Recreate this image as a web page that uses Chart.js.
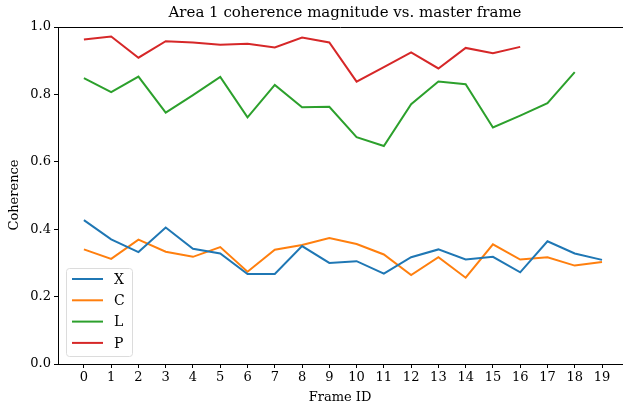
<!DOCTYPE html>
<html lang="en">
<head>
  <meta charset="UTF-8">
  <title>Area 1 coherence</title>
  <script src="https://cdn.jsdelivr.net/npm/chart.js@4.4.1/dist/chart.umd.min.js"></script>
  <style>
    html, body { margin: 0; padding: 0; background: #fff; }
    #wrap { width: 623px; height: 411px; }
  </style>
</head>
<body>
  <div id="wrap"><canvas id="coh-chart" width="623" height="411"></canvas></div>

  <script>
    // frame ids 0..19
    var frameIds = [0, 1, 2, 3, 4, 5, 6, 7, 8, 9, 10, 11, 12, 13, 14, 15, 16, 17, 18, 19];
    var yTicks = [0.0, 0.2, 0.4, 0.6, 0.8, 1.0];

    // coherence per band
    var cohX = [0.427, 0.370, 0.332, 0.405, 0.342, 0.328, 0.267, 0.267, 0.350, 0.300,
                0.305, 0.268, 0.317, 0.340, 0.310, 0.318, 0.272, 0.364, 0.328, 0.309];
    var cohC = [0.340, 0.312, 0.369, 0.333, 0.318, 0.347, 0.274, 0.339, 0.353, 0.374,
                0.356, 0.325, 0.264, 0.317, 0.256, 0.355, 0.310, 0.317, 0.292, 0.303];
    var cohL = [0.848, 0.807, 0.853, 0.746, 0.798, 0.852, 0.732, 0.828, 0.762, 0.763,
                0.673, 0.647, 0.771, 0.838, 0.830, 0.702, 0.737, 0.774, 0.866];
    var cohP = [0.963, 0.972, 0.909, 0.958, 0.954, 0.947, 0.950, 0.939, 0.969, 0.954,
                0.838, 0.881, 0.925, 0.877, 0.938, 0.922, 0.941];

    var bandNames = ["X", "C", "L", "P"];
    var bandColors = ["#1f77b4", "#ff7f0e", "#2ca02c", "#d62728"];
    var bandValues = [cohX, cohC, cohL, cohP];

    var serif = "'DejaVu Serif', 'Liberation Serif', serif";

    function toPoints(vals) {
      return vals.map((v, i) => ({ x: frameIds[i], y: v }));
    }

    var datasets = bandNames.map((name, i) => ({
      label: name,
      data: toPoints(bandValues[i]),
      borderColor: bandColors[i],
      backgroundColor: bandColors[i],
      borderWidth: 2,
      pointRadius: 0,
      tension: 0,
      fill: false
    }));

    // top spine, title, axis titles and the boxed legend in the lower left
    var decor = {
      id: "decor",
      afterDraw(chart) {
        const ctx = chart.ctx;
        const a = chart.chartArea;
        ctx.save();
        ctx.strokeStyle = "#000";
        ctx.lineWidth = 1;
        ctx.beginPath();
        ctx.moveTo(a.left, a.top + 0.5);
        ctx.lineTo(a.right, a.top + 0.5);
        ctx.stroke();

        ctx.fillStyle = "#000";
        ctx.textAlign = "center";
        ctx.textBaseline = "middle";
        ctx.font = "15px " + serif;
        ctx.fillText("Area 1 coherence magnitude vs. master frame", 345, 13);

        ctx.font = "13px " + serif;
        ctx.fillText("Frame ID", 340, 398);

        ctx.translate(15, 195);
        ctx.rotate(-Math.PI / 2);
        ctx.fillText("Coherence", 0, 0);
        ctx.restore();

        // legend
        ctx.save();
        const bx = 66, by = 268, bw = 66, bh = 88;
        ctx.fillStyle = "rgba(255,255,255,0.8)";
        ctx.strokeStyle = "#dcdcdc";
        ctx.lineWidth = 1;
        ctx.beginPath();
        ctx.roundRect(bx + 0.5, by + 0.5, bw, bh, 3);
        ctx.fill();
        ctx.stroke();
        ctx.font = "14px " + serif;
        ctx.textAlign = "left";
        ctx.textBaseline = "middle";
        chart.data.datasets.forEach((ds, i) => {
          const yy = 279 + i * 21.3;
          ctx.strokeStyle = ds.borderColor;
          ctx.lineWidth = 2;
          ctx.beginPath();
          ctx.moveTo(72, yy);
          ctx.lineTo(103, yy);
          ctx.stroke();
          ctx.fillStyle = "#000";
          ctx.fillText(ds.label, 114, yy + 1);
        });
        ctx.restore();
      }
    };

    var chart = new Chart("coh-chart", {
      type: "line",
      data: { datasets: datasets },
      options: {
        responsive: false,
        animation: false,
        layout: { padding: { left: 0, right: 0, top: 27, bottom: 0 } },
        plugins: {
          legend: { display: false },
          title: { display: false },
          tooltip: { enabled: false }
        },
        scales: {
          x: {
            type: "linear",
            min: -0.95,
            max: 19.77,
            afterBuildTicks: (s) => { s.ticks = frameIds.map(v => ({ value: v })); },
            afterFit: (s) => { s.height = 47; },
            ticks: {
              color: "#000",
              font: { family: serif, size: 13 },
              padding: 2,
              maxRotation: 0,
              autoSkip: false,
              callback: (v) => String(v)
            },
            grid: { drawOnChartArea: false, drawTicks: true, tickLength: 4, color: "#000" },
            border: { display: true, color: "#000", width: 1 }
          },
          y: {
            min: 0,
            max: 1,
            afterBuildTicks: (s) => { s.ticks = yTicks.map(v => ({ value: v })); },
            afterFit: (s) => { s.width = 58; },
            ticks: {
              color: "#000",
              font: { family: serif, size: 13 },
              padding: 3,
              callback: (v) => Number(v).toFixed(1)
            },
            grid: { drawOnChartArea: false, drawTicks: true, tickLength: 4, color: "#000" },
            border: { display: true, color: "#000", width: 1 }
          }
        }
      },
      plugins: [decor]
    });
  </script>
</body>
</html>
